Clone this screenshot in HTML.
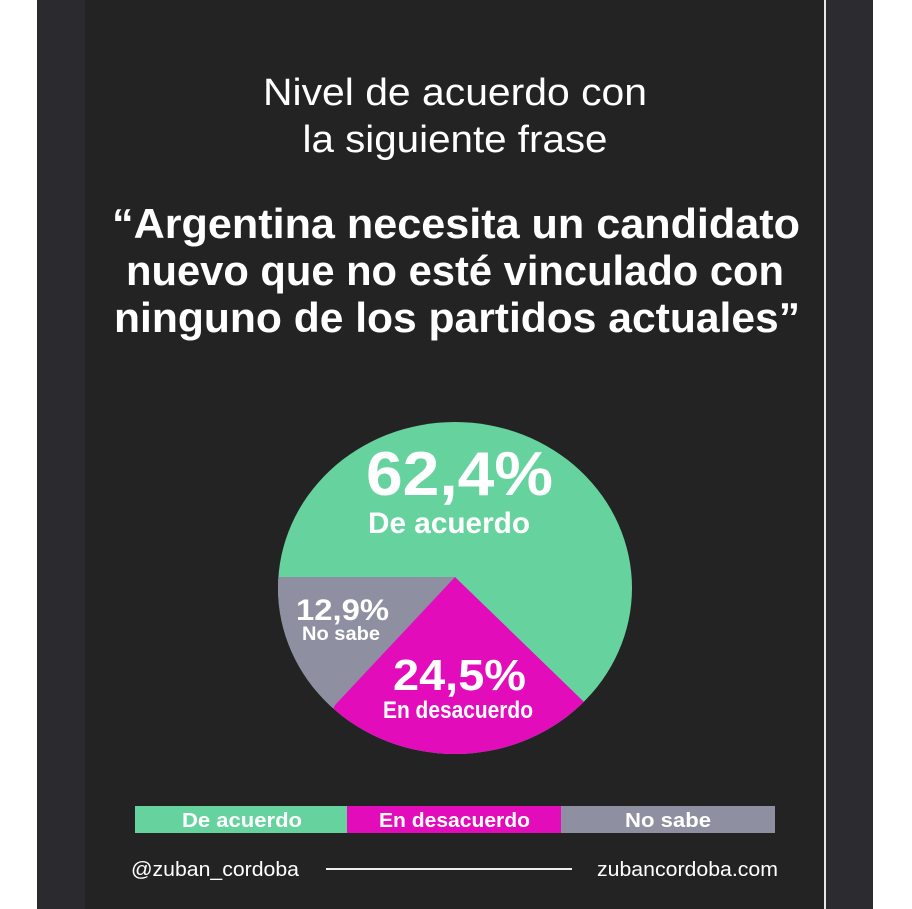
<!DOCTYPE html>
<html><head><meta charset="utf-8"><style>
html,body{margin:0;padding:0;background:#fff;}
svg{display:block;}
text{font-family:"Liberation Sans",sans-serif;fill:#fff;}
</style></head><body>
<svg width="912" height="909" viewBox="0 0 912 909" xmlns="http://www.w3.org/2000/svg">
<rect x="0" y="0" width="912" height="909" fill="#ffffff"/>
<rect x="37" y="0" width="836" height="909" fill="#2b2a2f"/>
<rect x="85" y="0" width="739" height="909" fill="#232323"/>
<rect x="824" y="0" width="2" height="909" fill="#e8e8e8"/>
<rect x="826" y="0" width="46" height="909" fill="#2c2c30"/>
<text x="455" y="105" font-size="38" text-anchor="middle" textLength="384" lengthAdjust="spacingAndGlyphs">Nivel de acuerdo con</text>
<text x="455" y="152" font-size="38" text-anchor="middle" textLength="305" lengthAdjust="spacingAndGlyphs">la siguiente frase</text>
<g font-weight="bold" font-size="42">
<text x="112" y="238" textLength="688" lengthAdjust="spacingAndGlyphs">“Argentina necesita un candidato</text>
<text x="126" y="285" textLength="658" lengthAdjust="spacingAndGlyphs">nuevo que no esté vinculado con</text>
<text x="114" y="332" textLength="686" lengthAdjust="spacingAndGlyphs">ninguno de los partidos actuales”</text>
</g>
<defs><clipPath id="c"><ellipse cx="455" cy="588" rx="177" ry="166"/></clipPath></defs>
<g clip-path="url(#c)">
<rect x="270" y="410" width="370" height="360" fill="#66d39e"/>
<polygon points="455,577 270,577 270,780 300,780 335,705" fill="#8e8fa1"/>
<polygon points="455,577 335,705 300,780 640,780 640,760 582,700" fill="#e20cbb"/>
</g>
<g font-weight="bold">
<text x="366" y="495" font-size="62" textLength="187" lengthAdjust="spacingAndGlyphs">62,4%</text>
<text x="368" y="533" font-size="30" textLength="162" lengthAdjust="spacingAndGlyphs">De acuerdo</text>
<text x="296" y="620" font-size="30" textLength="93" lengthAdjust="spacingAndGlyphs">12,9%</text>
<text x="302" y="640" font-size="19" textLength="78" lengthAdjust="spacingAndGlyphs">No sabe</text>
<text x="393" y="690" font-size="44" textLength="133" lengthAdjust="spacingAndGlyphs">24,5%</text>
<text x="383" y="718" font-size="24" textLength="150" lengthAdjust="spacingAndGlyphs">En desacuerdo</text>
</g>
<rect x="135" y="806" width="212" height="27" fill="#66d39e"/>
<rect x="347" y="806" width="214" height="27" fill="#e20cbb"/>
<rect x="561" y="806" width="214" height="27" fill="#8e8fa1"/>
<g font-weight="bold" font-size="20">
<text x="182" y="827" textLength="120" lengthAdjust="spacingAndGlyphs">De acuerdo</text>
<text x="379" y="827" textLength="151" lengthAdjust="spacingAndGlyphs">En desacuerdo</text>
<text x="625" y="827" textLength="86" lengthAdjust="spacingAndGlyphs">No sabe</text>
</g>
<text x="131" y="876" font-size="20" textLength="168" lengthAdjust="spacingAndGlyphs">@zuban_cordoba</text>
<rect x="326" y="868" width="246" height="2" fill="#eee"/>
<text x="597" y="876" font-size="20" textLength="181" lengthAdjust="spacingAndGlyphs">zubancordoba.com</text>
</svg>
</body></html>
